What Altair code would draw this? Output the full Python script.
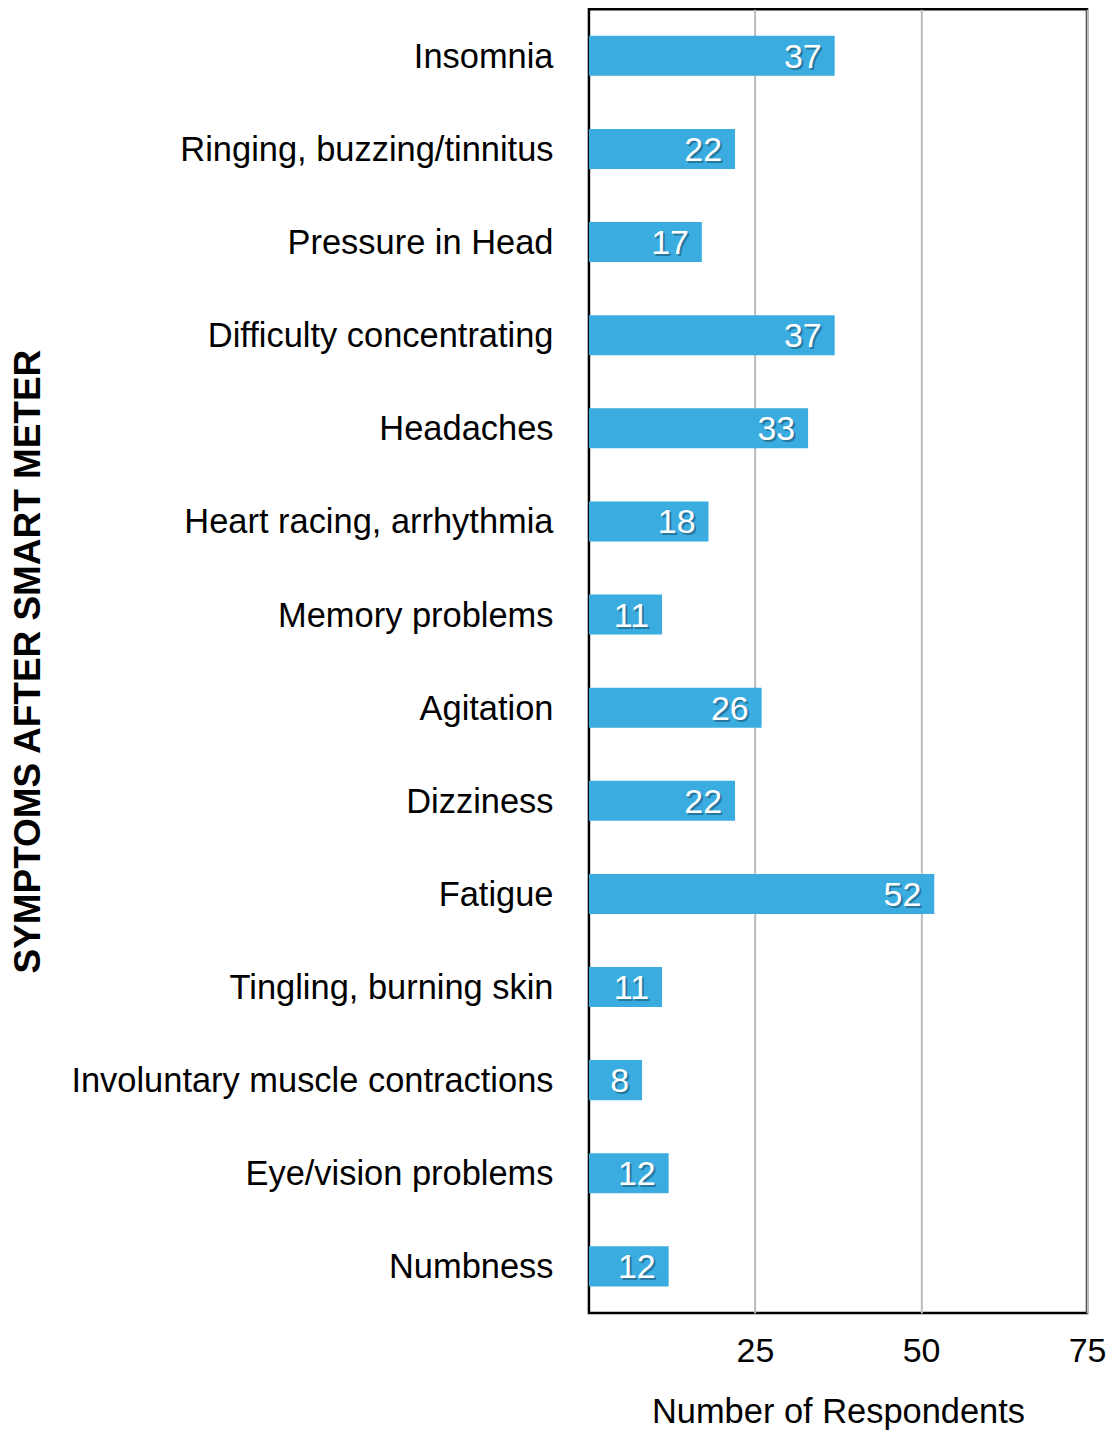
import altair as alt
import pandas as pd

symptoms = [
    "Insomnia", "Ringing, buzzing/tinnitus", "Pressure in Head",
    "Difficulty concentrating", "Headaches", "Heart racing, arrhythmia",
    "Memory problems", "Agitation", "Dizziness", "Fatigue",
    "Tingling, burning skin", "Involuntary muscle contractions",
    "Eye/vision problems", "Numbness",
]
counts = [37, 22, 17, 37, 33, 18, 11, 26, 22, 52, 11, 8, 12, 12]

df = pd.DataFrame({"symptom": symptoms, "count": counts})

FONT = "Liberation Sans"

y_enc = alt.Y(
    "symptom:N", sort=symptoms,
    scale=alt.Scale(paddingInner=0.57, paddingOuter=0.285),
    axis=alt.Axis(
        title="SYMPTOMS AFTER SMART METER", titleFont=FONT, titleFontSize=37,
        titleFontWeight="bold", titleColor="black",
        titleX=-561, titleY=653, titleAngle=270, titleAlign="center",
        titleBaseline="middle",
        labelFont=FONT, labelFontSize=34.5, labelColor="black", labelPadding=36,
        labelOffset=2,
        labelLimit=700, ticks=False, domain=False,
    ),
)
x_enc = alt.X(
    "count:Q", scale=alt.Scale(domain=[0, 75], nice=False),
    axis=alt.Axis(
        title="Number of Respondents", titleFont=FONT, titleFontSize=34.5,
        titleFontWeight="normal", titleColor="black", titlePadding=27,
        labelFont=FONT, labelFontSize=34, labelColor="black", labelPadding=22,
        labelFlush=False, labelOverlap=False,
        values=[25, 50, 75], ticks=False, domain=False,
        gridColor="#bbbbbb", gridWidth=2,
    ),
)

bars = alt.Chart(df).mark_bar(color="#3AACDF").encode(x=x_enc, y=y_enc)

shadow = alt.Chart(df).mark_text(
    align="right", baseline="middle", dx=-11, dy=4, font=FONT, fontSize=34,
    color="#123a52", opacity=0.45,
).encode(x="count:Q", y=alt.Y("symptom:N", sort=symptoms), text="count:Q")

labels = alt.Chart(df).mark_text(
    align="right", baseline="middle", dx=-13, dy=2, font=FONT, fontSize=34,
    color="white",
).encode(x="count:Q", y=alt.Y("symptom:N", sort=symptoms), text="count:Q")

chart = (
    alt.layer(bars, shadow, labels)
    .properties(width=499, height=1306)
    .configure(padding={"left": 2, "top": 0, "right": 0, "bottom": 0})
    .configure_view(stroke="black", strokeWidth=2.5)
)

chart.save("out.html", embed_options={"renderer": "svg", "actions": False})
